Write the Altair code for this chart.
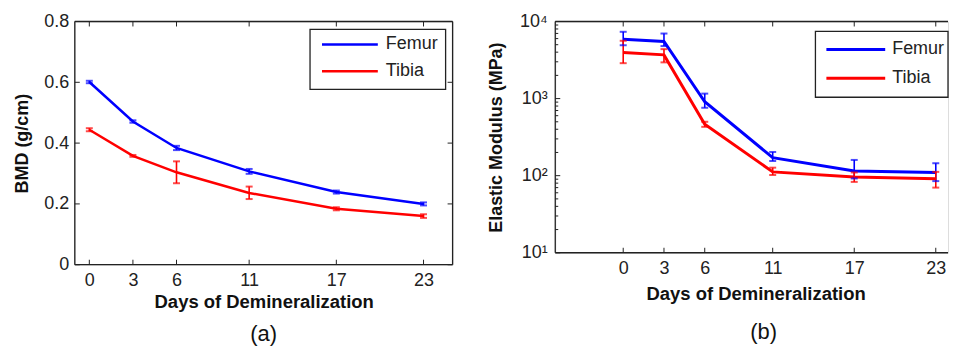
import altair as alt
import pandas as pd

# ---------------- data ----------------
days = [0, 3, 6, 11, 17, 23]
series = ["Femur", "Tibia"]
colors = ["#0000ff", "#ff0000"]

bmd_femur = [0.601, 0.471, 0.384, 0.307, 0.239, 0.200]
bmd_femur_lo = [0.597, 0.467, 0.377, 0.299, 0.234, 0.195]
bmd_femur_hi = [0.605, 0.475, 0.391, 0.315, 0.244, 0.205]
bmd_tibia = [0.444, 0.358, 0.304, 0.236, 0.184, 0.160]
bmd_tibia_lo = [0.439, 0.355, 0.268, 0.216, 0.179, 0.154]
bmd_tibia_hi = [0.449, 0.361, 0.340, 0.257, 0.189, 0.166]

mod_femur = [5900, 5500, 910, 171, 115, 110]
mod_femur_lo = [4920, 4800, 760, 155, 92, 85]
mod_femur_hi = [7350, 6980, 1160, 203, 160, 145]
mod_tibia = [3950, 3690, 464, 112, 96, 91]
mod_tibia_lo = [2880, 2950, 430, 102, 83, 70]
mod_tibia_hi = [5620, 4380, 500, 127, 110, 112]

bmd_ticks = [0, 0.2, 0.4, 0.6, 0.8]
mod_ticks = [10, 100, 1000, 10000]
mod_minor = [m * d for d in [10, 100, 1000] for m in range(2, 10)]

FONT = "Liberation Sans"
TXT = "#222222"
EDGE = "#222222"


def long_df(f, flo, fhi, t, tlo, thi):
    rows = []
    for name, v, lo, hi in [("Femur", f, flo, fhi), ("Tibia", t, tlo, thi)]:
        for d, a, b, c in zip(days, v, lo, hi):
            rows.append({"day": d, "series": name, "value": a, "lo": b, "hi": c})
    return pd.DataFrame(rows)


def panel(df, xdom, W, H, yscale, yaxis_kw, ytitle, yticks, yminor, lw,
          legbox, legrows, label, label_offset, label_dx, xaxis_extra,
          right_border):
    xaxis = alt.Axis(values=days, title="Days of Demineralization", ticks=False,
                     domain=False, grid=False, labelFontSize=18, labelColor=TXT,
                     labelPadding=7, titleFontSize=18.5, titleFontWeight="bold",
                     titleColor="#111111", labelFont=FONT, titleFont=FONT,
                     **xaxis_extra)
    yaxis = alt.Axis(values=yticks, title=ytitle, ticks=False, domain=False,
                     grid=False, labelFontSize=18, labelColor=TXT,
                     titleFontSize=18, titleFontWeight="bold",
                     titleColor="#111111", labelFont=FONT, titleFont=FONT,
                     **yaxis_kw)
    xs = alt.Scale(domain=xdom, nice=False, zero=False)

    def X(f):
        return alt.X(f, type="quantitative", scale=xs, axis=xaxis)

    def Y(f):
        return alt.Y(f, type="quantitative", scale=yscale, axis=yaxis)

    col = alt.Color("series:N", scale=alt.Scale(domain=series, range=colors),
                    legend=None)
    base = alt.Chart(df)
    lines = base.mark_line(strokeWidth=lw).encode(x=X("day"), y=Y("value"), color=col)
    err = base.mark_rule(strokeWidth=1.6).encode(x=X("day"), y=Y("lo"), y2="hi:Q", color=col)
    cap_lo = base.mark_tick(orient="horizontal", size=7, thickness=2).encode(
        x=X("day"), y=Y("lo"), color=col)
    cap_hi = base.mark_tick(orient="horizontal", size=7, thickness=2).encode(
        x=X("day"), y=Y("hi"), color=col)

    tdf = alt.Chart(pd.DataFrame({"t": days}))
    xt_bot = tdf.mark_rule(color=EDGE, strokeWidth=1).encode(
        x=X("t"), y=alt.value(H), y2=alt.value(H - 5))
    xt_top = tdf.mark_rule(color=EDGE, strokeWidth=1).encode(
        x=X("t"), y=alt.value(0), y2=alt.value(5))
    ydf = alt.Chart(pd.DataFrame({"v": yticks}))
    yt_l = ydf.mark_rule(color=EDGE, strokeWidth=1).encode(
        y=Y("v"), x=alt.value(0), x2=alt.value(5))
    layers = [lines, err, cap_lo, cap_hi, xt_bot, xt_top, yt_l]
    if right_border:
        layers.append(ydf.mark_rule(color=EDGE, strokeWidth=1).encode(
            y=Y("v"), x=alt.value(W - 5), x2=alt.value(W)))
    if yminor:
        mdf = alt.Chart(pd.DataFrame({"v": yminor}))
        layers.append(mdf.mark_rule(color=EDGE, strokeWidth=1).encode(
            y=Y("v"), x=alt.value(0), x2=alt.value(3)))

    one = alt.Chart(pd.DataFrame({"k": [0]}))
    # frame of the plot area
    layers.append(one.mark_rule(color=EDGE, strokeWidth=1.3).encode(
        x=alt.value(0), x2=alt.value(W), y=alt.value(0)))
    layers.append(one.mark_rule(color=EDGE, strokeWidth=1.3).encode(
        x=alt.value(0), x2=alt.value(W), y=alt.value(H)))
    layers.append(one.mark_rule(color=EDGE, strokeWidth=1.3).encode(
        x=alt.value(0), y=alt.value(0), y2=alt.value(H)))
    if right_border:
        layers.append(one.mark_rule(color=EDGE, strokeWidth=1.3).encode(
            x=alt.value(W), y=alt.value(0), y2=alt.value(H)))

    bx0, bx1, by0, by1 = legbox
    layers.append(one.mark_rect(fill="white", stroke=EDGE, strokeWidth=1.3).encode(
        x=alt.value(bx0), x2=alt.value(bx1), y=alt.value(by0), y2=alt.value(by1)))
    lx0, lx1, tx, ys = legrows
    for name, c, yy in zip(series, colors, ys):
        layers.append(one.mark_rule(color=c, strokeWidth=lw).encode(
            x=alt.value(lx0), x2=alt.value(lx1), y=alt.value(yy)))
        layers.append(one.mark_text(text=name, align="left", baseline="middle",
                                    fontSize=18, font=FONT, color=TXT).encode(
            x=alt.value(tx), y=alt.value(yy)))

    return alt.layer(*layers).properties(
        width=W, height=H,
        title=alt.TitleParams(label, orient="bottom", fontSize=22,
                              fontWeight="normal", font=FONT, color="#111111",
                              anchor="middle", offset=label_offset, dx=label_dx))


dfa = long_df(bmd_femur, bmd_femur_lo, bmd_femur_hi, bmd_tibia, bmd_tibia_lo, bmd_tibia_hi)
dfb = long_df(mod_femur, mod_femur_lo, mod_femur_hi, mod_tibia, mod_tibia_lo, mod_tibia_hi)

pa = panel(
    dfa, [-1, 25], 379, 244,
    alt.Scale(domain=[0, 0.8], nice=False, zero=False),
    dict(labelPadding=6, titlePadding=12,
         labelExpr="datum.value == 0 ? '0' : format(datum.value, '.1f')"),
    "BMD (g/cm)", bmd_ticks, None, 2.5,
    (236, 372, 8, 68), (248, 304, 312, [23, 50]), "(a)", 13, 0,
    dict(titlePadding=3), True)

pb = panel(
    dfb, [-5, 23.9], 394, 232,
    alt.Scale(type="log", domain=[10, 10000], nice=False),
    dict(labelPadding=8, titlePadding=14,
         labelExpr="datum.value == 10 ? '10¹' : datum.value == 100 ? '10²' : "
                   "datum.value == 1000 ? '10³' : '10⁴'"),
    "Elastic Modulus (MPa)", mod_ticks, mod_minor, 3,
    (261, 394, 10, 76), (272, 331, 338, [28, 57]), "(b)", 19, 12,
    dict(titlePadding=7, titleX=201), False)

chart = alt.hconcat(pa, pb, spacing=103, bounds="flush").resolve_scale(
    x="independent", y="independent", color="independent"
).configure_view(stroke=None).configure(
    padding={"left": 5, "top": 3, "right": 0, "bottom": 0},
    background="white",
)

chart.save("out.html", embed_options={"renderer": "svg", "actions": False})
